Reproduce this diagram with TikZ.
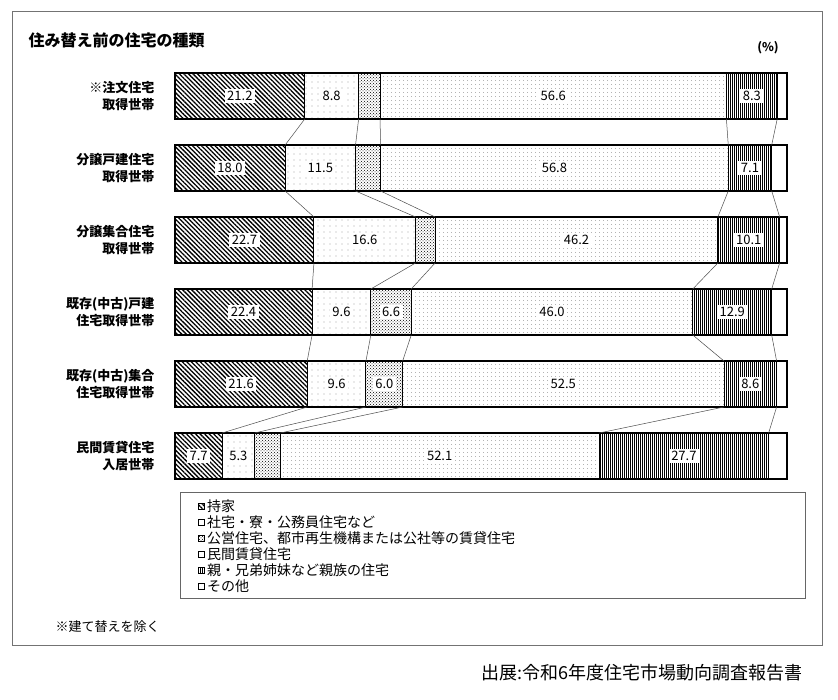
\documentclass[tikz,border=0pt]{standalone}
\usepackage{fontspec}
\setmainfont{Noto Sans CJK JP}
\usetikzlibrary{patterns,patterns.meta,calc}
\tikzset{
 segbase/.style={draw=black,line width=0.9pt},
 own/.style={segbase,pattern={Lines[angle=-45,distance=3.2pt,line width=1.3pt]}},
 comp/.style={segbase,pattern={Dots[distance=6pt,radius=0.45pt]}},
 pub/.style={segbase,pattern=crosshatch dots},
 rent/.style={segbase,pattern={Dots[distance=4pt,radius=0.35pt]},pattern color=black!70},
 par/.style={segbase,pattern={Lines[angle=90,distance=2pt,line width=0.9pt]}},
 oth/.style={segbase,fill=white},
 lab/.style={fill=white,inner sep=2.5pt,font=\fontsize{13}{13}\selectfont},
 rowlab/.style={align=right,anchor=east,font=\fontsize{13}{17}\selectfont\bfseries},
 conn/.style={draw=black!70,line width=0.5pt},
 legsq/.style={draw=black,line width=0.8pt,minimum size=6pt,inner sep=0pt},
 legtx/.style={anchor=west,inner sep=0pt,font=\fontsize{14}{14}\selectfont}
}
\newcommand\barrow[3]{%
 \pgfmathsetmacro\yb{#2+46}%
 \foreach \b [count=\k] in {0,#3,100}{
  \pgfmathsetmacro\xx{175+6.12*\b}
  \coordinate (#1t\k) at (\xx,#2);
  \coordinate (#1b\k) at (\xx,\yb);
 }
 \foreach \k/\sty in {1/own,2/comp,3/pub,4/rent,5/par,6/oth}{
  \pgfmathtruncatemacro\n{\k+1}
  \path[\sty] (#1t\k) rectangle (#1b\n);
 }
 \draw[line width=1.2pt] (#1t1) rectangle (#1b7);
}
\begin{document}
\begin{tikzpicture}[x=1pt,y=-1pt]
\useasboundingbox (0,0) rectangle (838,700);
\draw[black!55,line width=1pt] (12,12) rectangle (822,645);
\node[anchor=west,font=\fontsize{16}{16}\selectfont\bfseries] (title) at (25,40) {住み替え前の住宅の種類};
\node[font=\fontsize{12}{12}\selectfont\bfseries] (pct) at (768,48) {(\%)};
\barrow{a}{73}{21.2,30.0,33.5,90.1,98.4}
\barrow{b}{145}{18.0,29.5,33.6,90.4,97.5}
\barrow{c}{217}{22.7,39.3,42.5,88.7,98.8}
\barrow{d}{289}{22.4,32.0,38.6,84.6,97.5}
\barrow{e}{361}{21.6,31.2,37.2,89.7,98.3}
\barrow{f}{433}{7.7,13.0,17.2,69.3,97.0}
% connectors
\foreach \u/\v in {a/b,b/c,c/d,d/e,e/f}{
 \foreach \k in {2,...,6}{ \draw[conn] (\u b\k) -- (\v t\k); }
}
% labels
\foreach \r/\k/\t in {a/1/21.2,a/2/8.8,a/4/56.6,a/5/8.3,
 b/1/18.0,b/2/11.5,b/4/56.8,b/5/7.1,
 c/1/22.7,c/2/16.6,c/4/46.2,c/5/10.1,
 d/1/22.4,d/2/9.6,d/3/6.6,d/4/46.0,d/5/12.9,
 e/1/21.6,e/2/9.6,e/3/6.0,e/4/52.5,e/5/8.6,
 f/1/7.7,f/2/5.3,f/4/52.1,f/5/27.7}{
 \pgfmathtruncatemacro\n{\k+1}
 \node[lab] (l\r\k) at ($(\r t\k)!0.5!(\r b\n)$) {\t};
}
% row labels
\node[rowlab] (ra) at (158,96) {※注文住宅\\取得世帯};
\node[rowlab] (rb) at (158,168) {分譲戸建住宅\\取得世帯};
\node[rowlab] (rc) at (158,240) {分譲集合住宅\\取得世帯};
\node[rowlab] (rd) at (158,312) {既存(中古)戸建\\住宅取得世帯};
\node[rowlab] (re) at (158,384) {既存(中古)集合\\住宅取得世帯};
\node[rowlab] (rf) at (158,456) {民間賃貸住宅\\入居世帯};
% legend
\draw[black!60,line width=1pt] (180,492) rectangle (805,598);
\foreach \i/\sty/\t in {0/own/持家,1/oth/社宅・寮・公務員住宅など,2/pub/公営住宅、都市再生機構または公社等の賃貸住宅,3/oth/民間賃貸住宅,4/par/親・兄弟姉妹など親族の住宅,5/oth/その他}{
 \pgfmathsetmacro\ly{506+16*\i}
 \node[legsq,\sty] (sq\i) at (201,\ly) {};
 \node[legtx] (lt\i) at (207,\ly) {\t};
}
\node[anchor=west,font=\fontsize{13}{13}\selectfont] (note) at (52,627) {※建て替えを除く};
\node[anchor=east,font=\fontsize{18}{18}\selectfont] (src) at (806,673) {出展:令和6年度住宅市場動向調査報告書};
\end{tikzpicture}
\end{document}
